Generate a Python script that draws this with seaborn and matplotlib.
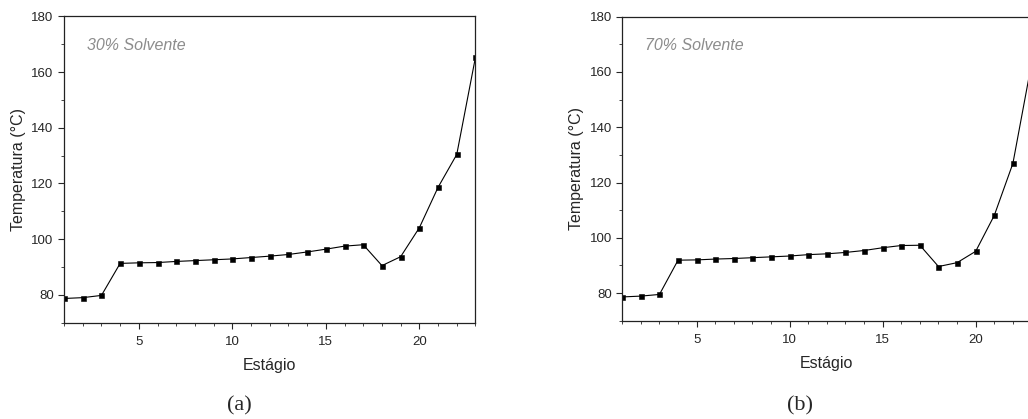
import matplotlib
matplotlib.use("Agg")
import matplotlib.pyplot as plt
import seaborn as sns
import pandas as pd
from matplotlib.ticker import MultipleLocator

estagio = list(range(1, 24))
temp_30 = [78.7, 79.0, 79.8, 91.3, 91.5, 91.6, 92.0, 92.3, 92.6, 92.9, 93.4, 93.9,
           94.5, 95.4, 96.4, 97.5, 98.0, 90.5, 93.7, 104.1, 118.6, 130.4, 165.3]
temp_70 = [78.6, 78.9, 79.5, 91.9, 92.0, 92.3, 92.5, 92.8, 93.1, 93.4, 93.9, 94.2,
           94.7, 95.4, 96.4, 97.2, 97.3, 89.6, 91.0, 95.1, 108.1, 126.9, 163.0]
labels = ["30% Solvente", "70% Solvente"]
panels = ["(a)", "(b)"]

sns.set_style("ticks")
plt.rcParams['font.family'] = ['Liberation Sans', 'DejaVu Sans']

fig = plt.figure(figsize=(10.28, 4.19), dpi=100)
positions = [[0.0623, 0.2298, 0.4002, 0.7312],
             [0.6053, 0.2346, 0.3981, 0.7256]]
panel_x = [239 / 1028, 800 / 1028]

for pos, temps, lab, pan, px in zip(positions, [temp_30, temp_70], labels, panels, panel_x):
    ax = fig.add_axes(pos)
    df = pd.DataFrame({"Estágio": estagio, "T": temps})
    sns.lineplot(data=df, x="Estágio", y="T", ax=ax, color="black", linewidth=0.8,
                 marker="s", markersize=3.6, markeredgecolor="black", markeredgewidth=0.4)
    ax.set_xlim(1, 23)
    ax.set_ylim(70, 180)
    ax.xaxis.set_major_locator(MultipleLocator(5))
    ax.xaxis.set_minor_locator(MultipleLocator(1))
    ax.yaxis.set_major_locator(MultipleLocator(20))
    ax.yaxis.set_minor_locator(MultipleLocator(10))
    ax.tick_params(which="major", direction="out", length=4, width=0.8, labelsize=9.5, pad=3.5)
    ax.tick_params(axis="x", which="major", pad=5.5)
    ax.tick_params(which="minor", direction="out", length=2, width=0.6)
    for s in ax.spines.values():
        s.set_linewidth(0.9)
        s.set_color("#222222")
        s.set_visible(True)
    ax.set_xlabel("Estágio", fontsize=11.5, labelpad=7.5)
    ax.set_ylabel("Temperatura (°C)", fontsize=11.5, labelpad=4)
    ax.text(0.055, 0.905, lab, transform=ax.transAxes, fontsize=11.5, style="italic",
            color="#8c8c8c", va="center", ha="left")
    fig.text(px, 1 - 406 / 419, pan, fontsize=16,
             family=["Liberation Serif", "DejaVu Serif"], ha="center", va="center")

fig.savefig("out.png", dpi=100)
